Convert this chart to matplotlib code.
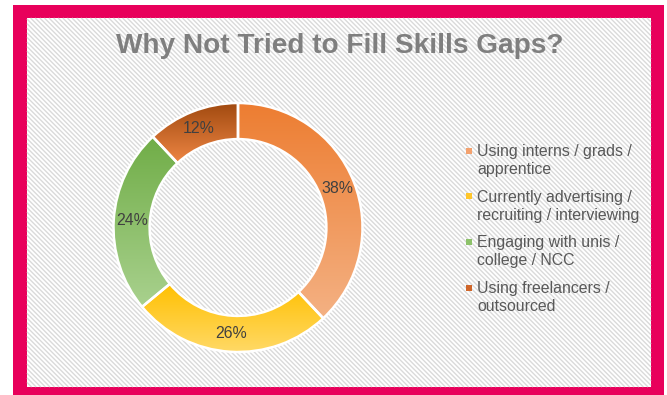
import numpy as np
import matplotlib
matplotlib.use("Agg")
import matplotlib.pyplot as plt
from matplotlib.patches import Rectangle
from matplotlib.collections import LineCollection
from matplotlib.colors import to_rgb

plt.rcParams['font.family'] = ['Liberation Sans', 'DejaVu Sans']

# ---- data ----
title = "Why Not Tried to Fill Skills Gaps?"
categories = [
    "Using interns / grads /\napprentice",
    "Currently advertising /\nrecruiting / interviewing",
    "Engaging with unis /\ncollege / NCC",
    "Using freelancers /\noutsourced",
]
shares = [38, 26, 24, 12]

# ---- styling ----
grad_top = ['#ED7D31', '#FFC000', '#70AD47', '#A0490F']
grad_bottom = ['#F4B183', '#FFD966', '#A9D18E', '#EE8644']
legend_colors = ['#F4A26F', '#FFC62B', '#8DC26A', '#D0662A']
PINK = '#E8005B'

W, H = 667, 395
fig = plt.figure(figsize=(W / 100, H / 100), dpi=100)

# background layer in pixel coordinates (y down)
bg = fig.add_axes([0, 0, 1, 1])
bg.set_xlim(0, W)
bg.set_ylim(H, 0)
bg.axis('off')

bg.add_patch(Rectangle((13, 5), 651, 400, facecolor=PINK, edgecolor='none', zorder=0))
L, T, Rr, B = 27, 18, 651, 387
bg.add_patch(Rectangle((L, T), Rr - L, B - T, facecolor='white', edgecolor='none', zorder=0.5))

# diagonal stripe texture inside the frame (lines x - y = k)
segs = []
for k in np.arange(L - B, Rr - T + 5, 4.6):
    ya = max(T, L - k)
    yb = min(B, Rr - k)
    if yb > ya:
        segs.append([(ya + k, ya), (yb + k, yb)])
lc = LineCollection(segs, colors='#DADADA', linewidths=1.0, zorder=0.8)
bg.add_collection(lc)

bg.text(339.5, 53.3, title, ha='center', va='baseline', fontsize=20.2,
        fontweight='bold', color='#7F7F7F', zorder=3)

# legend drawn as markers + text
y0, step, line_gap = 156, 45.7, 18
for i, (lab, col) in enumerate(zip(categories, legend_colors)):
    yb = y0 + i * step
    bg.add_patch(Rectangle((466, yb - 8.5), 6, 6, facecolor=col, edgecolor='none', zorder=3))
    for j, line in enumerate(lab.split('\n')):
        bg.text(477, yb + j * line_gap, line, ha='left', va='baseline',
                fontsize=11.4, color='#595959', zorder=3)

# ---- donut ----
cx, cy, R = 238, 227.5, 124.5
ax = fig.add_axes([(cx - R) / W, (H - cy - R) / H, 2 * R / W, 2 * R / H])
ax.patch.set_alpha(0)

wedges, texts, autotexts = ax.pie(
    shares, startangle=90, counterclock=False, radius=1,
    wedgeprops=dict(width=0.29, edgecolor='white', linewidth=1.8),
    autopct=lambda p: f'{p:.0f}%', pctdistance=0.855,
    textprops=dict(fontsize=11.4, color='#404040'))

# vertical gradient fill for each slice, spanning the slice's own extent
for w, ct, cb in zip(wedges, grad_top, grad_bottom):
    ext = w.get_path().get_extents()
    t = np.linspace(0, 1, 256)[:, None]
    grad = (1 - t) * np.array(to_rgb(ct)) + t * np.array(to_rgb(cb))
    img = ax.imshow(grad[:, None, :], extent=(ext.x0, ext.x1, ext.y0, ext.y1),
                    origin='upper', aspect='auto', interpolation='bilinear', zorder=1)
    img.set_clip_path(w)
    w.set_facecolor('none')
    w.set_zorder(2)

for a in autotexts:
    a.set_zorder(3)

ax.set_xlim(-1, 1)
ax.set_ylim(-1, 1)
ax.set_aspect('equal')
ax.axis('off')

fig.savefig('out.png', dpi=100)
